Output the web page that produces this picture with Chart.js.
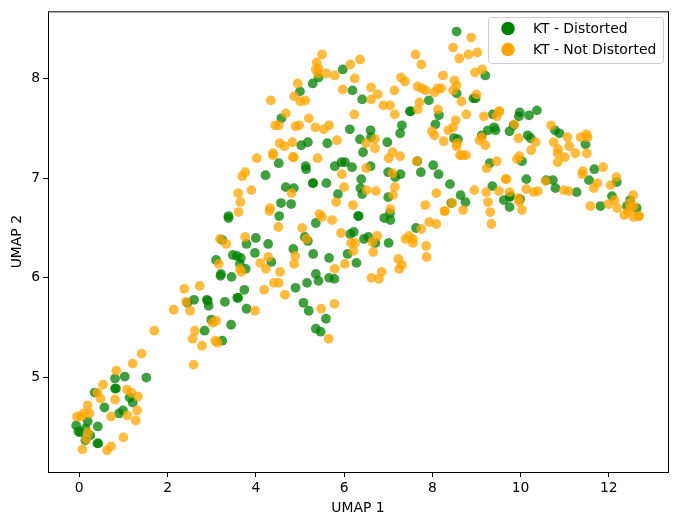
<!DOCTYPE html>
<html>
<head>
<meta charset="utf-8">
<title>UMAP scatter</title>
<script src="https://cdn.jsdelivr.net/npm/chart.js@4"></script>
<style>
  html, body { margin: 0; padding: 0; background: #fff; }
  canvas { display: block; }
</style>
</head>
<body>
<canvas id="umapChart" width="678" height="525"></canvas>
<script>
// Points, [UMAP 1, UMAP 2]
const seriesNames = ["KT - Distorted", "KT - Not Distorted"];
const xTickStep = 2;
const yTickStep = 1;

const distorted = [
  [3.2,6.02],[3.45,6.01],[3.58,5.80],[3.30,5.76],[2.60,5.78],[2.45,5.75],[2.89,5.78],[2.91,5.77],[2.93,5.72],[2.99,5.58],
  [3.44,5.53],[2.84,5.47],[3.24,5.37],[1.03,5.01],[0.81,4.99],[1.52,5.0],[0.81,4.89],[0.83,4.89],[0.35,4.85],[1.14,4.80],
  [1.21,4.75],[0.57,4.70],[0.99,4.67],[0.90,4.64],[0.19,4.56],[-0.07,4.52],[0.42,4.51],[0.14,4.49],[-0.02,4.46],[0.02,4.45],
  [0.25,4.42],[0.14,4.37],[0.41,4.34],[0.43,4.34],
  [4.22,7.03],[4.68,6.91],[4.86,6.90],[5.29,6.95],[5.30,6.95],[5.60,6.95],[5.86,6.84],[4.57,6.75],[4.80,6.74],[4.53,6.62],
  [3.38,6.62],[3.38,6.60],[5.36,6.55],[6.32,6.62],[6.22,6.46],[6.14,6.44],[5.11,6.41],[5.18,6.37],[3.24,6.38],[4.0,6.40],
  [3.79,6.34],[4.28,6.34],[4.85,6.29],[5.30,6.24],[6.08,6.24],[6.28,6.15],[5.66,6.20],[3.98,6.25],[3.48,6.23],[3.57,6.22],
  [3.66,6.20],[3.64,6.14],[3.77,6.09],[3.10,6.18],[4.35,6.16],[3.21,6.04],[3.74,5.88],[3.60,5.80],[3.79,5.69],[5.36,6.04],
  [5.42,5.97],[5.16,5.95],[5.66,6.0],[5.78,5.99],[4.90,5.90],[5.08,5.75],[5.20,5.67],[5.59,5.59],[5.36,5.49],[5.47,5.46],
  [6.39,6.99],[6.37,6.90],[6.41,6.84],[7.0,6.81],[6.33,6.62],[7.04,6.65],[6.91,6.60],[7.05,6.58],[7.0,7.06],[7.16,7.01],
  [7.28,7.04],[7.74,7.06],[8.14,7.04],[8.40,6.94],[8.64,6.83],[8.75,6.76],[8.43,6.75],[9.36,6.92],[9.62,6.78],[9.75,6.81],
  [9.75,6.71],[7.63,6.50],[7.01,6.35],[6.71,6.35],[6.55,6.41],[6.45,6.39],
  [10.37,7.68],[10.19,7.63],[9.98,7.66],[9.96,7.62],[9.84,7.53],[9.75,7.47],[10.16,7.43],[10.23,7.40],[10.78,7.48],[10.88,7.45],
  [11.47,7.34],[10.03,7.17],[10.13,6.99],[10.58,6.98],[10.73,6.98],[10.79,6.90],[11.27,6.86],[11.67,7.09],[11.55,6.98],[12.18,6.96],
  [11.81,6.72],[12.07,6.82],[12.48,6.78],[12.41,6.72],[12.63,6.70],[9.77,6.82],[9.99,6.79],
  [5.97,8.09],[5.42,8.01],[5.29,7.95],[5.0,7.87],[6.19,7.88],[6.41,7.79],[4.58,7.60],[6.13,7.49],[6.60,7.48],[6.61,7.41],
  [6.36,7.39],[5.18,7.36],[5.03,7.33],[5.62,7.35],[6.98,7.36],[7.31,7.53],[7.27,7.45],[7.49,7.67],[6.43,7.26],[4.52,7.15],
  [5.13,7.12],[5.14,7.09],[5.79,7.12],[5.94,7.16],[6.02,7.16],[6.18,7.11],[6.60,7.12],
  [8.55,8.47],[9.20,8.03],[8.55,7.85],[8.93,7.80],[8.98,7.80],[7.92,7.78],[7.51,7.67],[8.15,7.63],[8.07,7.54],[8.49,7.40],
  [8.58,7.39],[9.37,7.64],[9.12,7.43],[9.26,7.48],[9.40,7.51],[9.43,7.48],[7.66,7.17],[8.02,7.13],[9.30,7.15]
];

const notDistorted = [
  [2.38,5.89],[2.73,5.92],[2.42,5.76],[2.14,5.68],[2.51,5.67],[3.10,5.57],[3.02,5.55],[2.62,5.47],[2.57,5.39],[2.78,5.32],
  [3.08,5.37],[3.13,5.35],[2.59,5.13],[1.70,5.47],[1.41,5.24],[1.21,5.14],[0.84,5.07],[0.54,4.93],[0.41,4.85],[0.48,4.79],
  [1.08,4.88],[1.18,4.85],[1.33,4.81],[0.81,4.78],[0.19,4.72],[1.31,4.67],[1.09,4.62],[0.72,4.61],[1.28,4.57],[0.23,4.64],
  [0.10,4.64],[-0.05,4.61],[0.04,4.61],[0.19,4.45],[0.16,4.38],[1.0,4.40],[0.72,4.31],[0.63,4.27],[0.07,4.28],
  [3.69,7.02],[3.76,7.06],[3.60,6.85],[3.90,6.88],[3.65,6.76],[3.61,6.66],[4.32,6.70],[4.31,6.67],[4.81,6.85],[4.51,6.51],
  [5.05,6.50],[5.44,6.64],[5.50,6.61],[5.73,6.58],[5.82,6.76],[6.0,6.91],[6.20,6.73],[5.95,7.04],[5.93,6.45],[6.16,6.35],
  [6.25,6.35],[6.21,6.27],[6.02,6.14],[5.79,6.09],[4.89,6.22],[4.87,6.14],[4.55,6.06],[4.28,6.21],[4.10,6.15],[4.23,6.09],
  [3.76,6.41],[5.15,6.39],[3.19,6.39],[3.33,6.34],[3.16,6.14],[3.64,6.09],[3.67,6.06],[4.41,5.95],[4.52,5.95],[4.19,5.88],
  [4.66,5.83],[3.98,5.67],[5.48,5.69],[5.78,5.74],[5.65,5.39],
  [6.51,6.88],[6.72,6.87],[7.15,6.91],[7.11,6.83],[7.05,6.69],[7.10,7.05],[8.09,6.85],[7.84,6.73],[8.28,6.67],[8.28,6.67],
  [8.45,6.75],[8.70,6.68],[8.95,6.88],[9.22,6.86],[9.51,6.87],[9.26,6.76],[9.31,6.66],[9.34,6.54],[7.93,6.56],[8.09,6.54],
  [7.75,6.49],[7.47,6.42],[7.39,6.39],[7.56,6.39],[7.56,6.35],[7.86,6.32],[7.87,6.21],[7.23,6.19],[7.31,6.13],[7.25,6.09],
  [6.85,6.06],[6.62,6.0],[6.79,5.99],[6.66,6.26],[6.75,6.42],[6.64,6.36],[9.68,6.99],
  [9.86,7.54],[9.95,7.40],[10.34,7.36],[10.24,7.28],[10.69,7.53],[11.06,7.41],[11.36,7.41],[11.49,7.44],[11.52,7.41],[10.75,7.36],
  [11.10,7.32],[10.85,7.29],[10.84,7.25],[11.0,7.21],[11.24,7.25],[11.50,7.25],[10.84,7.16],[9.97,7.22],[9.92,7.19],[9.66,6.99],
  [10.13,6.89],[10.30,6.86],[10.39,6.87],[10.57,6.97],[10.98,6.88],[11.09,6.87],[9.75,6.86],[9.95,6.80],[9.97,6.76],[10.03,6.68],
  [11.87,7.11],[11.41,7.07],[11.40,7.04],[11.74,6.95],[11.66,6.90],[12.17,7.01],[12.04,6.93],[11.58,6.72],[11.99,6.74],[12.13,6.78],
  [12.19,6.70],[12.55,6.83],[12.47,6.75],[12.56,6.72],[12.50,6.70],[12.43,6.66],[12.35,6.63],[12.56,6.61],[12.67,6.62],[12.69,6.62],
  [9.52,7.67],
  [5.50,8.24],[6.36,8.19],[6.14,8.14],[5.38,8.16],[5.36,8.09],[5.42,8.10],[5.41,8.05],[5.60,8.05],[5.79,8.03],[6.24,8.0],
  [4.95,7.95],[4.87,7.82],[5.01,7.77],[5.12,7.78],[4.34,7.78],[5.97,7.89],[6.61,7.91],[6.76,7.84],[6.61,7.79],[7.14,7.88],
  [7.29,8.01],[7.38,7.97],[6.89,7.73],[7.04,7.73],[7.15,7.64],[6.23,7.64],[4.68,7.65],[4.44,7.53],[4.52,7.53],[4.90,7.52],
  [4.98,7.53],[5.20,7.60],[5.35,7.51],[5.54,7.49],[5.66,7.53],[4.54,7.35],[4.65,7.32],[4.83,7.36],[5.84,7.38],[4.39,7.25],
  [4.39,7.23],[4.02,7.20],[4.84,7.21],[4.86,7.21],[5.40,7.20],[6.50,7.35],[6.70,7.39],[6.70,7.30],[7.10,7.26],[7.01,7.20],
  [7.27,7.22],[6.50,7.10],
  [8.88,8.41],[8.47,8.31],[8.82,8.24],[9.02,8.26],[8.61,8.20],[7.62,8.24],[7.75,8.14],[8.97,8.06],[9.13,8.09],[8.24,8.03],
  [7.67,7.92],[7.76,7.90],[7.85,7.88],[8.05,7.86],[8.12,7.90],[8.20,7.90],[8.50,7.98],[8.55,7.93],[8.47,7.88],[9.0,7.84],
  [8.66,7.77],[7.71,7.76],[7.67,7.69],[8.13,7.69],[8.77,7.64],[9.17,7.62],[9.51,7.67],[9.46,7.62],[8.53,7.58],[8.47,7.51],
  [8.36,7.48],[7.99,7.47],[8.05,7.43],[8.26,7.37],[8.56,7.35],[8.55,7.32],[8.63,7.23],[8.67,7.23],[8.76,7.23],[9.12,7.41],
  [9.07,7.38],[9.20,7.33],[9.46,7.17],[9.23,7.10],[7.65,7.17]
];

function toPoints(list) {
  return list.map(p => ({ x: p[0], y: p[1] }));
}

const fontFamily = "'DejaVu Sans', sans-serif";
const colors = ["#008000", "#ffa500"];
const fills = ["rgba(0,128,0,0.75)", "rgba(255,165,0,0.75)"];

// all four spines plus the matplotlib style legend box
const framePlugin = {
  id: "frame",
  afterDraw(chart) {
    const ctx = chart.ctx;
    const area = chart.chartArea;
    ctx.save();
    ctx.strokeStyle = "#000";
    ctx.lineWidth = 1;
    ctx.strokeRect(area.left + 0.5, area.top + 0.5, area.right - area.left, area.bottom - area.top);

    ctx.beginPath();
    ctx.roundRect(488.5, 17.5, 175, 46, 3);
    ctx.fillStyle = "rgba(255,255,255,0.8)";
    ctx.fill();
    ctx.strokeStyle = "#ccc";
    ctx.stroke();

    ctx.font = "13.9px " + fontFamily;
    ctx.textBaseline = "middle";
    seriesNames.forEach((name, i) => {
      const rowY = 28.5 + i * 21;
      ctx.beginPath();
      ctx.arc(508, rowY, 6.8, 0, Math.PI * 2);
      ctx.fillStyle = colors[i];
      ctx.fill();
      ctx.fillStyle = "#000";
      ctx.fillText(name, 533, rowY + 0.5);
    });
    ctx.restore();
  }
};

function axisOptions(title, min, max, step) {
  return {
    type: "linear",
    min: min,
    max: max,
    title: { display: true, text: title, color: "#000", font: { size: 13.9, family: fontFamily }, padding: { top: 3, bottom: 0 } },
    grid: { display: true, drawOnChartArea: false, drawTicks: true, tickLength: 5, tickWidth: 1, tickColor: "#000", color: "#000" },
    border: { display: false },
    ticks: { stepSize: step, includeBounds: false, autoSkip: false, maxRotation: 0, color: "#000", padding: 3, font: { size: 13.9, family: fontFamily } }
  };
}

const xAxis = axisOptions("UMAP 1", -0.709, 13.34, xTickStep);
xAxis.afterFit = scale => { scale.height = 45; };
const yAxis = axisOptions("UMAP 2", 4.053, 8.673, yTickStep);
yAxis.afterFit = scale => { scale.width = 42; };

new Chart(document.getElementById("umapChart"), {
  type: "scatter",
  data: {
    datasets: [
      { label: seriesNames[0], data: toPoints(distorted), backgroundColor: fills[0], borderWidth: 0, pointRadius: 4.9, order: 1 },
      { label: seriesNames[1], data: toPoints(notDistorted), backgroundColor: fills[1], borderWidth: 0, pointRadius: 4.9, order: 0 }
    ]
  },
  options: {
    responsive: false,
    animation: false,
    layout: { padding: { top: 10, right: 10, left: 6, bottom: 8 } },
    plugins: { legend: { display: false }, tooltip: { enabled: false } },
    scales: { x: xAxis, y: yAxis }
  },
  plugins: [framePlugin]
});
</script>
</body>
</html>
